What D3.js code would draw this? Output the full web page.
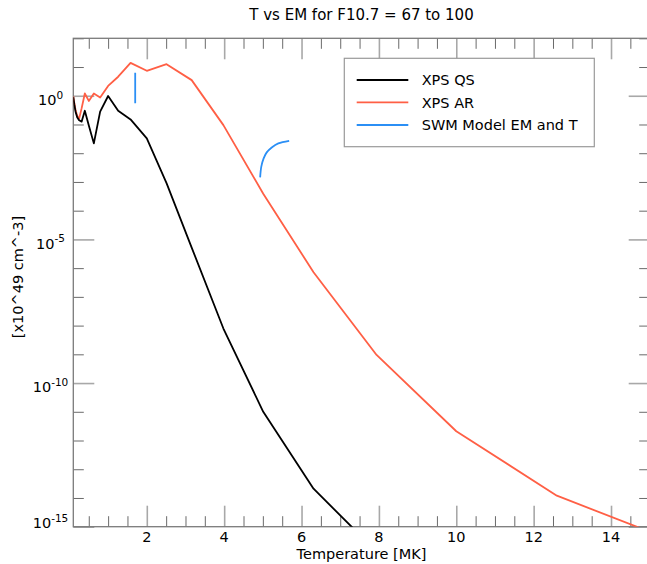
<!DOCTYPE html>
<html><head><meta charset="utf-8">
<script src="https://cdn.jsdelivr.net/npm/d3@7"></script>
<style>
html,body{margin:0;padding:0;background:#fff;}
svg{display:block;font-family:"DejaVu Sans",sans-serif;}
</style></head>
<body>
<svg id="chart" width="647" height="564"></svg>
<script>
// ---- data (temperature in MK, emission measure in 1e49 cm^-3) ----
const qsTemp = [0.1,0.126,0.158,0.2,0.251,0.316,0.398,0.501,0.631,0.794,1.0,1.26,1.58,2.0,2.51,3.16,3.98,5.01,6.31,7.94];
const qsEM   = [0.89,0.50,0.28,0.18,0.14,0.126,0.30,0.093,0.022,0.28,0.98,0.30,0.15,0.033,9.1e-4,5.2e-6,7.9e-9,1.0e-11,2.1e-14,1.35e-16];
const arTemp = [0.1,0.126,0.158,0.2,0.251,0.316,0.398,0.501,0.631,0.794,1.0,1.26,1.58,2.0,2.51,3.16,3.98,5.01,6.31,7.94,10.0,12.6,15.85];
const arEM   = [0.95,0.56,0.32,0.20,0.16,0.37,1.2,0.66,1.2,0.87,2.2,4.6,14,7.4,12.6,3.5,0.095,3.9e-4,7.2e-7,9.5e-10,2.1e-12,1.2e-14,2.4e-16];
const swmCoolTemp = [1.70,1.70];
const swmCoolEM   = [0.55,6.3];
const swmHotTemp  = [4.93,4.96,5.02,5.10,5.23,5.40,5.68];
const swmHotEM    = [1.45e-3,3.4e-3,6.6e-3,0.0107,0.0158,0.0219,0.0269];
const seriesNames = ["XPS QS","XPS AR","SWM Model EM and T"];
const seriesColors = ["#000000","#ff5f45","#2b8ff5"];
const xMajorTicks = [2,4,6,8,10,12,14];
const xMinorTicks = d3.range(0.5,15.01,0.5);
const yMajorTicks = [1,1e-5,1e-10,1e-15];
const yMajorExp = ["0","-5","-10","-15"];
const yMinorTicks = d3.range(-15,3).map(e=>Math.pow(10,e));
const titleText = "T vs EM for F10.7 = 67 to 100";
const xLabel = "Temperature [MK]";
const yLabel = "[x10^49 cm^-3]";

// ---- layout ----
const L=73.3, R=649.7, T=38.3, B=526.7;
const svg = d3.select("#chart");
const x = d3.scaleLinear().domain([0.1,15]).range([L,R]);
const y = d3.scaleLog().domain([1e-15,1e2]).range([B,T]);

const FS = 14.5;
const frameColor="#7a7a7a", minorColor="#6a6a6a", majorColor="#a8a8a8";

svg.append("defs").append("clipPath").attr("id","clip")
  .append("rect").attr("x",L).attr("y",T).attr("width",R-L).attr("height",B-T);

// ticks via d3 axes (inward)
function styleAxis(g, color, w){
  g.select(".domain").remove();
  g.selectAll(".tick line").attr("stroke",color).attr("stroke-width",w);
  g.selectAll(".tick text").remove();
}
const minorLen=10.5, majorLen=21;
const xMinorOnly = xMinorTicks.filter(v=>!xMajorTicks.includes(v));
const yMinorOnly = yMinorTicks.filter(v=>!yMajorTicks.some(m=>Math.abs(Math.log10(m)-Math.log10(v))<1e-6));

svg.append("g").attr("transform",`translate(0,${B})`).call(d3.axisBottom(x).tickValues(xMinorOnly).tickSize(-minorLen)).call(styleAxis,minorColor,1);
svg.append("g").attr("transform",`translate(0,${T})`).call(d3.axisTop(x).tickValues(xMinorOnly).tickSize(-minorLen)).call(styleAxis,minorColor,1);
svg.append("g").attr("transform",`translate(0,${B})`).call(d3.axisBottom(x).tickValues(xMajorTicks).tickSize(-majorLen)).call(styleAxis,majorColor,1.6);
svg.append("g").attr("transform",`translate(0,${T})`).call(d3.axisTop(x).tickValues(xMajorTicks).tickSize(-majorLen)).call(styleAxis,majorColor,1.6);
svg.append("g").attr("transform",`translate(${L},0)`).call(d3.axisLeft(y).tickValues(yMinorOnly).tickSize(-minorLen)).call(styleAxis,minorColor,1);
svg.append("g").attr("transform",`translate(${R},0)`).call(d3.axisRight(y).tickValues(yMinorOnly).tickSize(-minorLen)).call(styleAxis,minorColor,1);
svg.append("g").attr("transform",`translate(${L},0)`).call(d3.axisLeft(y).tickValues(yMajorTicks).tickSize(-majorLen)).call(styleAxis,majorColor,1.6);
svg.append("g").attr("transform",`translate(${R},0)`).call(d3.axisRight(y).tickValues(yMajorTicks).tickSize(-majorLen)).call(styleAxis,majorColor,1.6);

// frame
svg.append("rect").attr("x",L).attr("y",T).attr("width",R-L).attr("height",B-T)
  .attr("fill","none").attr("stroke",frameColor).attr("stroke-width",1.3);

// x tick labels
svg.append("g").selectAll("text").data(xMajorTicks).join("text")
  .attr("x",d=>x(d)).attr("y",542).attr("text-anchor","middle")
  .attr("font-size",FS).attr("fill","#000").text(d=>d);

// y tick labels
const yl = svg.append("g").selectAll("text").data(yMajorTicks).join("text")
  .attr("x",50.5).attr("y",d=>Math.min(y(d)+9.3,528.3)).attr("text-anchor","middle")
  .attr("font-size",FS).attr("fill","#000");
yl.append("tspan").text("10");
yl.append("tspan").attr("dy",-6.5).attr("font-size",10.5).text((d,i)=>yMajorExp[i]);

// titles
svg.append("text").attr("x",(L+R)/2).attr("y",20).attr("text-anchor","middle")
  .attr("font-size",15).text(titleText);
svg.append("text").attr("x",(L+R)/2).attr("y",559).attr("text-anchor","middle")
  .attr("font-size",FS).text(xLabel);
svg.append("text").attr("transform","translate(23,277) rotate(-90)").attr("text-anchor","middle")
  .attr("font-size",FS).text(yLabel);

// data lines
const line = d3.line().x(d=>x(d[0])).y(d=>y(d[1]));
const plot = svg.append("g").attr("clip-path","url(#clip)");
plot.append("path").datum(d3.zip(arTemp,arEM)).attr("d",line)
  .attr("fill","none").attr("stroke",seriesColors[1]).attr("stroke-width",1.8).attr("stroke-linejoin","round");
plot.append("path").datum(d3.zip(qsTemp,qsEM)).attr("d",line)
  .attr("fill","none").attr("stroke",seriesColors[0]).attr("stroke-width",1.8).attr("stroke-linejoin","round");
plot.append("path").datum(d3.zip(swmCoolTemp,swmCoolEM)).attr("d",line)
  .attr("fill","none").attr("stroke",seriesColors[2]).attr("stroke-width",1.8);
plot.append("path").datum(d3.zip(swmHotTemp,swmHotEM)).attr("d",line.curve(d3.curveCatmullRom))
  .attr("fill","none").attr("stroke",seriesColors[2]).attr("stroke-width",1.8);

// legend
const lg = svg.append("g");
lg.append("rect").attr("x",344.3).attr("y",58.3).attr("width",250).attr("height",88.4)
  .attr("fill","#fff").attr("stroke","#999").attr("stroke-width",1.2);
const rows = [80,102.3,125];
seriesNames.forEach((n,i)=>{
  lg.append("line").attr("x1",356.7).attr("x2",408.3).attr("y1",rows[i]).attr("y2",rows[i])
    .attr("stroke",seriesColors[i]).attr("stroke-width",1.8);
  lg.append("text").attr("x",421.7).attr("y",rows[i]+5.3).attr("font-size",FS).text(n);
});
</script>
</body></html>
